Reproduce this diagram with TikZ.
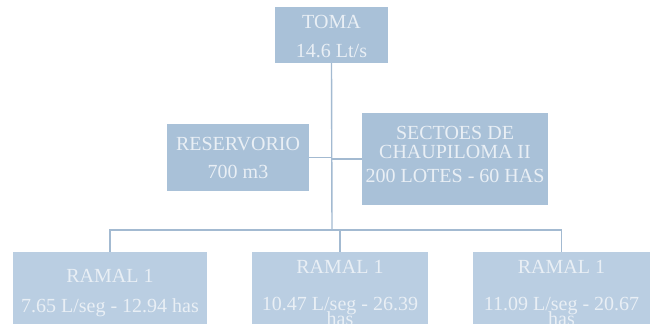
\documentclass[tikz,border=0pt]{standalone}
\usepackage{fontspec}
\setmainfont{Liberation Serif}
\definecolor{upfill}{HTML}{A9C1D8}
\definecolor{lowfill}{HTML}{BACEE2}
\definecolor{txtcol}{HTML}{E9EFF5}
\definecolor{linecol}{HTML}{A3BAD1}
\tikzset{
  boxU/.style={rectangle, draw=none, fill=upfill, inner sep=0pt},
  boxL/.style={rectangle, draw=none, fill=lowfill, inner sep=0pt},
  lbl/.style={anchor=base, inner sep=0pt, text=txtcol, font=\fontsize{20}{24}\selectfont},
  conn/.style={draw=linecol, line width=1.4pt}
}
\begin{document}
\begin{tikzpicture}[x=1pt,y=-1pt]
\useasboundingbox (0,0) rectangle (651,324);
% boxes
\node[boxU, minimum width=113pt, minimum height=56pt] (toma) at (331.5,35) {};
\node[boxU, minimum width=142pt, minimum height=67pt] (res) at (238,157.5) {};
\node[boxU, minimum width=186pt, minimum height=92pt] (sec) at (455,159) {};
\node[boxL, minimum width=194pt, minimum height=72pt] (r1) at (110,288) {};
\node[boxL, minimum width=176pt, minimum height=72pt] (r2) at (340,288) {};
\node[boxL, minimum width=177pt, minimum height=72pt] (r3) at (561.5,288) {};
% texts
\node[lbl] (t1) at (331.5,28) {TOMA};
\node[lbl] (t2) at (331.5,57) {14.6 Lt/s};
\node[lbl] (s1) at (238,150) {RESERVORIO};
\node[lbl] (s2) at (238,178) {700 m3};
\node[lbl] (c1) at (455,139) {SECTOES DE};
\node[lbl] (c2) at (455,158) {CHAUPILOMA II};
\node[lbl] (c3) at (455,182) {200 LOTES - 60 HAS};
\node[lbl] (a1) at (110,282) {RAMAL 1};
\node[lbl] (a2) at (110,312) {7.65 L/seg - 12.94 has};
\node[lbl] (b1) at (340,273) {RAMAL 1};
\node[lbl] (b2) at (340,310) {10.47 L/seg - 26.39};
\node[lbl] (b3) at (340,325) {has};
\node[lbl] (d1) at (561.5,273) {RAMAL 1};
\node[lbl] (d2) at (561.5,310) {11.09 L/seg - 20.67};
\node[lbl] (d3) at (561.5,325) {has};
% connectors
\coordinate (j) at (332,230);
\draw[conn] (toma.south) -- (j);
\draw[conn] (res.east) -- (res.east -| j);
\draw[conn] (sec.west) -- (sec.west -| j);
\draw[conn] (r1.north) |- (j) -| (r3.north);
\draw[conn] (r2.north) -- (r2.north |- j);
\end{tikzpicture}
\end{document}
